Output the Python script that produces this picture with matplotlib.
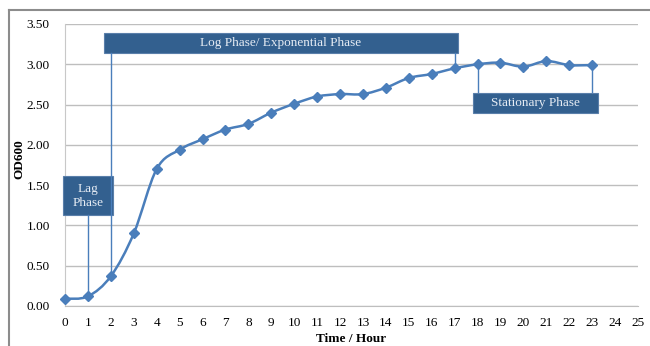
import numpy as np
import matplotlib
matplotlib.use("Agg")
import matplotlib.pyplot as plt
from matplotlib.path import Path
from matplotlib.patches import PathPatch, Rectangle
from matplotlib.lines import Line2D

plt.rcParams['font.family'] = ['Liberation Serif', 'DejaVu Serif']

hours = list(range(0, 24))
od600 = [0.09, 0.12, 0.37, 0.90, 1.70, 1.94, 2.07, 2.19, 2.26, 2.40, 2.51, 2.60,
         2.63, 2.63, 2.71, 2.83, 2.88, 2.95, 3.00, 3.02, 2.97, 3.04, 2.99, 2.99]
x_ticks = list(range(0, 26))
y_ticks = [0.0, 0.5, 1.0, 1.5, 2.0, 2.5, 3.0, 3.5]

# phase labels: text, box (x0, x1, y0, y1), hours the leader lines point to
phases = [
    ("Log Phase/ Exponential Phase", (1.70, 17.15, 3.14, 3.39), [2, 17]),
    ("Stationary Phase", (17.8, 23.26, 2.40, 2.64), [18, 23]),
    ("Lag\nPhase", (-0.09, 2.09, 1.13, 1.61), [1]),
]

blue = '#4A7EBB'
box_col = '#33608F'

fig = plt.figure(figsize=(6.5, 3.46), dpi=100)
ax = fig.add_axes([65/650, 1-306/346, (638-65)/650, (306-24)/346])

# smooth line (Catmull-Rom as cubic bezier, like Excel's smoothed line)
px = np.array(hours, dtype=float)
py = np.array(od600, dtype=float)
verts = [(px[0], py[0])]
codes = [Path.MOVETO]
n = len(px)
for i in range(n - 1):
    p0 = np.array([px[max(i-1, 0)], py[max(i-1, 0)]])
    p1 = np.array([px[i], py[i]])
    p2 = np.array([px[i+1], py[i+1]])
    p3 = np.array([px[min(i+2, n-1)], py[min(i+2, n-1)]])
    c1 = p1 + (p2 - p0) / 6
    c2 = p2 - (p3 - p1) / 6
    verts += [tuple(c1), tuple(c2), tuple(p2)]
    codes += [Path.CURVE4] * 3
ax.add_patch(PathPatch(Path(verts, codes), fill=False, edgecolor=blue, lw=1.8,
                       zorder=3, clip_on=False))
ax.plot(hours, od600, linestyle='none', marker='D', ms=5, color=blue,
        zorder=4, clip_on=False)

for text, (x0, x1, y0, y1), pts in phases:
    ax.add_patch(Rectangle((x0, y0), x1 - x0, y1 - y0, facecolor=box_col,
                           edgecolor='#5A7FAA', lw=0.8, zorder=5, clip_on=False))
    ax.text((x0 + x1) / 2, (y0 + y1) / 2, text, color='#E6ECF4', fontsize=9.5,
            ha='center', va='center', zorder=6, linespacing=1.2)
    for h in pts:
        yv = od600[h]
        if y0 > yv:
            ax.plot([h, h], [yv, y0], color=blue, lw=1, zorder=6)
        else:
            ax.plot([h, h], [y1, yv], color=blue, lw=1, zorder=2)

ax.set_xlim(0, 25)
ax.set_ylim(0, 3.5)
ax.set_xticks(x_ticks)
ax.set_yticks(y_ticks)
ax.set_yticklabels([f"{v:.2f}" for v in y_ticks])
ax.tick_params(length=0, labelsize=9.5)
ax.tick_params(axis='y', pad=11)
ax.tick_params(axis='x', pad=8)
ax.grid(axis='y', color='#BEBEBE', lw=1)
ax.set_axisbelow(True)
for s in ['top', 'right']:
    ax.spines[s].set_visible(False)
ax.spines['left'].set_color('#C8C8C8')
ax.spines['bottom'].set_color('#BEBEBE')

ax.set_xlabel("Time / Hour", fontsize=9.5, fontweight='bold', labelpad=3)
ax.set_ylabel("OD600", fontsize=9.5, fontweight='bold')
ax.yaxis.set_label_coords(-0.07, 0.52)

# outer frame
fig.add_artist(Line2D([9/650, 9/650], [0, 1-10/346], color='#8C8C8C', lw=1.5))
fig.add_artist(Line2D([9/650, 1], [1-10/346, 1-10/346], color='#8C8C8C', lw=1.5))

fig.savefig("out.png", dpi=100)
